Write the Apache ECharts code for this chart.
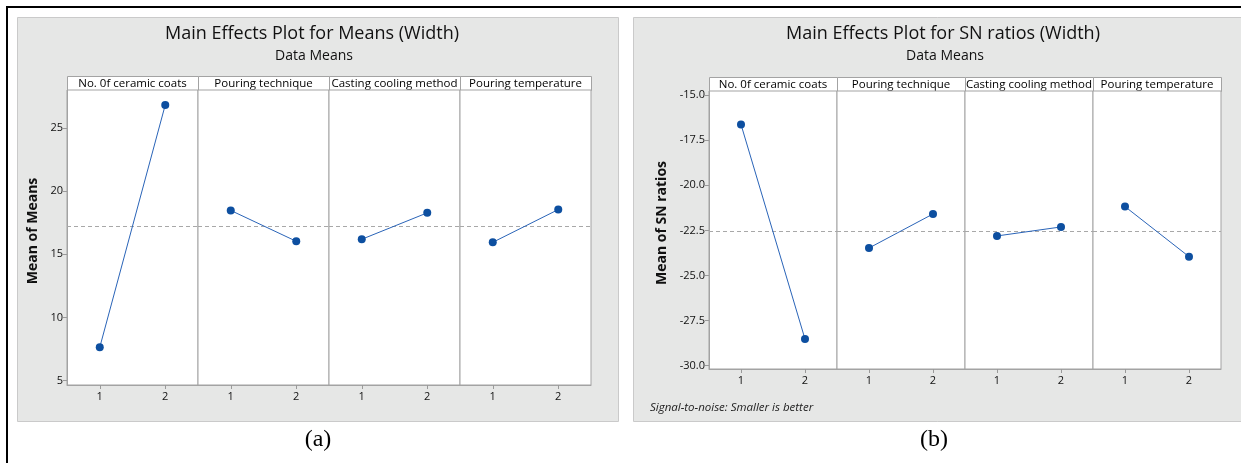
<!DOCTYPE html>
<html>
<head>
<meta charset="utf-8">
<script src="https://cdn.jsdelivr.net/npm/echarts@6/dist/echarts.min.js"></script>
<style>
html,body{margin:0;padding:0;background:#fff;}
#c{width:1241px;height:463px;}
</style>
</head>
<body>
<div id="c"></div>
<script>
// ---- data ----
var factors = ['No. 0f ceramic coats', 'Pouring technique', 'Casting cooling method', 'Pouring temperature'];
var levels = ['1', '2'];
var meansCoats = [7.64, 26.82];
var meansPouring = [18.47, 16.03];
var meansCooling = [16.19, 18.28];
var meansTemp = [15.95, 18.54];
var meansGrand = 17.25;
var snCoats = [-16.62, -28.54];
var snPouring = [-23.48, -21.59];
var snCooling = [-22.81, -22.31];
var snTemp = [-21.18, -23.96];
var snGrand = -22.56;
var meansTicks = [5, 10, 15, 20, 25];
var snTicks = [-15, -17.5, -20, -22.5, -25, -27.5, -30];
var titleA = 'Main Effects Plot for Means (Width)';
var titleB = 'Main Effects Plot for SN ratios (Width)';
var subTitle = 'Data Means';
var yNameA = 'Mean of Means';
var yNameB = 'Mean of SN ratios';
var noteB = 'Signal-to-noise: Smaller is better';

var meansSeries = [meansCoats, meansPouring, meansCooling, meansTemp];
var snSeries = [snCoats, snPouring, snCooling, snTemp];

var FONT = '"Open Sans", "Noto Sans", sans-serif';
var frameColor = '#a3a3a3';
var lineColor = '#2a64b8';
var dotColor = '#0d4fa0';

var chart = echarts.init(document.getElementById('c'));

var grids = [], xAxes = [], yAxes = [], series = [], bgGraphics = [], fgGraphics = [];

// background panels & frame (drawn behind the grids)
bgGraphics.push({type:'rect', shape:{x:6,y:6,width:1235,height:2}, style:{fill:'#000'}});
bgGraphics.push({type:'rect', shape:{x:6,y:6,width:2,height:457}, style:{fill:'#000'}});
bgGraphics.push({type:'rect', shape:{x:17.5,y:17.5,width:601,height:404}, style:{fill:'#e6e7e6', stroke:'#cacaca', lineWidth:1}});
bgGraphics.push({type:'rect', shape:{x:633.5,y:17.5,width:620,height:404}, style:{fill:'#e6e7e6', stroke:'#cacaca', lineWidth:1}});

function addChart(cfg) {
  for (var i = 0; i < 4; i++) {
    var idx = grids.length;
    var left = cfg.left + i * cfg.w;
    grids.push({left: left, top: cfg.top, width: cfg.w, height: cfg.h, show: true, z: 2,
      backgroundColor: '#fff', borderColor: frameColor, borderWidth: 1, containLabel: false});
    xAxes.push({type: 'category', gridIndex: idx, data: levels, boundaryGap: true, z: 3,
      axisLine: {show: true, lineStyle: {color: frameColor}},
      axisTick: {show: true, alignWithLabel: true, length: 4, lineStyle: {color: '#9a9a9a'}},
      axisLabel: {color: '#111', fontFamily: FONT, fontSize: 11, margin: 6},
      splitLine: {show: false}});
    yAxes.push({type: 'value', gridIndex: idx, min: cfg.min, max: cfg.max, show: i === 0, z: 3,
      axisLine: {show: true, lineStyle: {color: frameColor}},
      axisTick: {show: true, length: 4, customValues: cfg.ticks, lineStyle: {color: '#9a9a9a'}},
      axisLabel: {color: '#111', fontFamily: FONT, fontSize: 11, margin: 4, customValues: cfg.ticks,
        formatter: cfg.fmt},
      splitLine: {show: false}});
    series.push({type: 'line', xAxisIndex: idx, yAxisIndex: idx, data: cfg.data[i],
      symbol: 'circle', symbolSize: 8, itemStyle: {color: dotColor},
      lineStyle: {color: lineColor, width: 1}, animation: false, z: 5,
      markLine: {symbol: 'none', silent: true, label: {show: false}, animation: false,
        lineStyle: {color: '#a8a8a8', type: [4, 3], width: 1},
        data: [{yAxis: cfg.grand}]}});
    // strip header
    fgGraphics.push({type: 'rect', shape: {x: left + 0.5, y: cfg.stripTop + 0.5, width: cfg.w, height: cfg.top - cfg.stripTop},
      style: {fill: '#fff', stroke: frameColor, lineWidth: 1}});
    fgGraphics.push({type: 'text', x: left + cfg.w / 2, y: cfg.stripTop + (cfg.top - cfg.stripTop) / 2 + 0.5,
      style: {text: factors[i], align: 'center', verticalAlign: 'middle', fill: '#000',
        font: '11.5px ' + FONT}});
  }
  fgGraphics.push({type: 'text', x: cfg.titleX, y: 34, style: {text: cfg.title, align: 'center', verticalAlign: 'middle',
    fill: '#111', font: '18px ' + FONT}});
  fgGraphics.push({type: 'text', x: cfg.titleX + 2, y: 56, style: {text: subTitle, align: 'center', verticalAlign: 'middle',
    fill: '#111', font: '14px ' + FONT}});
  fgGraphics.push({type: 'text', x: cfg.yNameX, y: cfg.yNameY, rotation: Math.PI / 2,
    style: {text: cfg.yName, align: 'center', verticalAlign: 'middle', fill: '#111', font: 'bold 14px ' + FONT}});
  fgGraphics.push({type: 'text', x: cfg.labelX, y: 440, style: {text: cfg.label, align: 'center', verticalAlign: 'middle',
    fill: '#000', font: '24px "Liberation Serif", "Times New Roman", serif'}});
}

addChart({left: 67, w: 131, top: 90, stripTop: 76, h: 295, min: 4.66, max: 28.0, ticks: meansTicks,
  fmt: function (v) { return String(v); }, data: meansSeries, grand: meansGrand,
  title: titleA, titleX: 312, yName: yNameA, yNameX: 33, yNameY: 231, label: '(a)', labelX: 318});
addChart({left: 709, w: 128, top: 91, stripTop: 77, h: 278, min: -30.2, max: -14.76, ticks: snTicks,
  fmt: function (v) { return Number(v).toFixed(1); }, data: snSeries, grand: snGrand,
  title: titleB, titleX: 943, yName: yNameB, yNameX: 662, yNameY: 223, label: '(b)', labelX: 934});

fgGraphics.push({type: 'text', x: 650, y: 408, style: {text: noteB, align: 'left', verticalAlign: 'middle',
  fill: '#222', font: 'italic 11.5px ' + FONT}});

chart.setOption({
  animation: false,
  backgroundColor: '#fff',
  grid: grids,
  xAxis: xAxes,
  yAxis: yAxes,
  series: series,
  graphic: [
    {id: 'bg', type: 'group', z: -10, children: bgGraphics},
    {id: 'fg', type: 'group', z: 20, children: fgGraphics}
  ]
});
</script>
</body>
</html>
